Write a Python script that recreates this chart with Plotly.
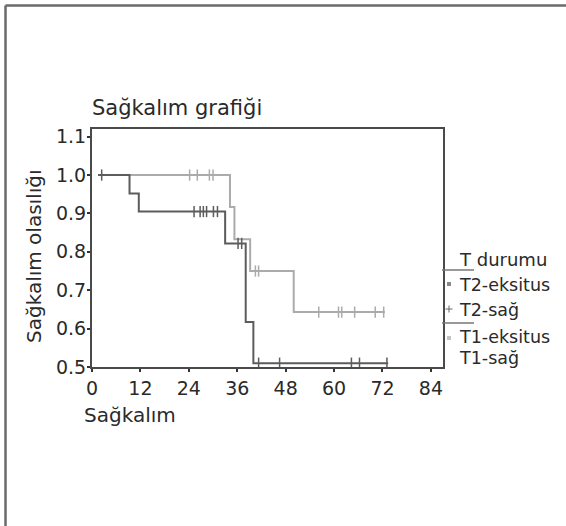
import plotly.graph_objects as go

# ---- data ----
t2_time = [1.5, 9.3, 11.6, 33.0, 38.1, 40.0, 73.4]
t2_surv = [1.0, 0.952, 0.905, 0.822, 0.617, 0.51, 0.51]
t2_cens_time = [2.4, 25.3, 26.8, 27.6, 28.4, 30.1, 31.1, 36.2, 37.1, 41.3, 46.5, 64.3, 66.3, 73.1]
t2_cens_surv = [1.0, 0.905, 0.905, 0.905, 0.905, 0.905, 0.905, 0.822, 0.822, 0.51, 0.51, 0.51, 0.51, 0.51]

t1_time = [1.5, 34.2, 35.3, 39.2, 50.0, 72.6]
t1_surv = [1.0, 0.917, 0.833, 0.75, 0.643, 0.643]
t1_cens_time = [24.2, 26.1, 29.1, 30.0, 40.5, 41.3, 56.2, 61.1, 61.9, 65.1, 70.2, 72.3]
t1_cens_surv = [1.0, 1.0, 1.0, 1.0, 0.75, 0.75, 0.643, 0.643, 0.643, 0.643, 0.643, 0.643]

x_ticks = [0, 12, 24, 36, 48, 60, 72, 84]
y_ticks = [0.5, 0.6, 0.7, 0.8, 0.9, 1.0, 1.1]
y_tick_text = ["0.5", "0.6", "0.7", "0.8", "0.9", "1.0", "1.1"]

legend_title = "T durumu"
legend_labels = ["T2-eksitus", "T2-sağ", "T1-eksitus", "T1-sağ"]

DARK = "#5c5c5c"
LIGHT = "#ababab"
TXT = "#2a2a2a"
FONT = "DejaVu Sans"

W, H = 566, 526
L, R, T, B = 92, 443, 129, 367


def px(x):
    return (x - L) / (R - L)


def py(y):
    return (B - y) / (B - T)


fig = go.Figure()
fig.add_trace(go.Scatter(x=t1_time, y=t1_surv, mode="lines", line=dict(color=LIGHT, width=2, shape="hv"),
                         showlegend=False, hoverinfo="skip"))
fig.add_trace(go.Scatter(x=t2_time, y=t2_surv, mode="lines", line=dict(color=DARK, width=2, shape="hv"),
                         showlegend=False, hoverinfo="skip"))
fig.add_trace(go.Scatter(x=t1_cens_time, y=t1_cens_surv, mode="markers",
                         marker=dict(symbol="line-ns-open", size=8, color=LIGHT, line=dict(color=LIGHT, width=1.5)),
                         showlegend=False, hoverinfo="skip"))
fig.add_trace(go.Scatter(x=t2_cens_time, y=t2_cens_surv, mode="markers",
                         marker=dict(symbol="line-ns-open", size=8, color=DARK, line=dict(color=DARK, width=1.5)),
                         showlegend=False, hoverinfo="skip"))

axis_common = dict(showline=True, mirror=True, linecolor="#4a4a4a", linewidth=2,
                   showgrid=False, zeroline=False, ticks="outside", ticklen=3, tickwidth=2,
                   tickcolor="#333", tickfont=dict(family=FONT, size=19, color=TXT))

fig.update_xaxes(range=[0, 87], tickvals=x_ticks, ticktext=[str(v) for v in x_ticks], **axis_common)
fig.update_yaxes(range=[0.5, 1.12], tickvals=y_ticks, ticktext=y_tick_text, ticklabelstandoff=-3, **axis_common)

shapes = []
# outer border (top and left only)
shapes.append(dict(type="line", xref="paper", yref="paper", x0=px(5.5), x1=px(566), y0=py(5.5), y1=py(5.5),
                   line=dict(color="#6a6a6a", width=2.5)))
shapes.append(dict(type="line", xref="paper", yref="paper", x0=px(5.5), x1=px(5.5), y0=py(5.5), y1=py(526),
                   line=dict(color="#6a6a6a", width=2.5)))
# legend separators
for yy in (270, 323):
    shapes.append(dict(type="line", xref="paper", yref="paper", x0=px(442), x1=px(474), y0=py(yy), y1=py(yy),
                       line=dict(color="#777", width=1.5)))
# legend symbols
shapes.append(dict(type="rect", xref="paper", yref="paper", x0=px(447), x1=px(451), y0=py(282), y1=py(286),
                   fillcolor="#888", line=dict(width=0)))
shapes.append(dict(type="rect", xref="paper", yref="paper", x0=px(447), x1=px(451), y0=py(336), y1=py(340),
                   fillcolor="#c4c4c4", line=dict(width=0)))
shapes.append(dict(type="line", xref="paper", yref="paper", x0=px(445.5), x1=px(452.5), y0=py(309), y1=py(309),
                   line=dict(color="#666", width=1)))
shapes.append(dict(type="line", xref="paper", yref="paper", x0=px(449), x1=px(449), y0=py(305.5), y1=py(312.5),
                   line=dict(color="#666", width=1)))

annotations = []
annotations.append(dict(text="Sağkalım grafiği", xref="paper", yref="paper", x=px(90), y=py(108),
                        xanchor="left", yanchor="middle", showarrow=False,
                        font=dict(family=FONT, size=21, color=TXT)))
annotations.append(dict(text="Sağkalım", xref="paper", yref="paper", x=px(82), y=py(415),
                        xanchor="left", yanchor="middle", showarrow=False,
                        font=dict(family=FONT, size=20, color=TXT)))
annotations.append(dict(text="Sağkalım olasılığı", xref="paper", yref="paper", x=px(34), y=py(257),
                        xanchor="center", yanchor="middle", textangle=-90, showarrow=False,
                        font=dict(family=FONT, size=20, color=TXT)))
annotations.append(dict(text=legend_title, xref="paper", yref="paper", x=px(457), y=py(259),
                        xanchor="left", yanchor="middle", showarrow=False,
                        font=dict(family=FONT, size=18, color=TXT)))
for lab, yy in zip(legend_labels, (285, 310, 337, 358)):
    annotations.append(dict(text=lab, xref="paper", yref="paper", x=px(457), y=py(yy),
                            xanchor="left", yanchor="middle", showarrow=False,
                            font=dict(family=FONT, size=17.5, color=TXT)))

fig.update_layout(width=W, height=H, margin=dict(l=L, r=W - R, t=T, b=H - B, pad=0),
                  paper_bgcolor="white", plot_bgcolor="white", shapes=shapes, annotations=annotations,
                  font=dict(family=FONT, color=TXT))

fig.write_html("out.html", config={"displayModeBar": False},
               post_script="document.body.style.margin='0';document.body.style.padding='0';")
